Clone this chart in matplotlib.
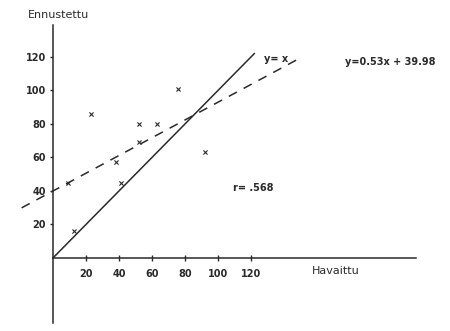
import matplotlib
matplotlib.use("Agg")
import matplotlib.pyplot as plt
import numpy as np

# Data
observed = [9, 13, 23, 38, 41, 52, 52, 63, 76, 92]        # Havaittu
predicted = [45, 16, 86, 57, 45, 80, 69, 80, 101, 63]     # Ennustettu
slope, intercept = 0.53, 39.98
r_value = ".568"
x_ticks = [20, 40, 60, 80, 100, 120]
y_ticks = [20, 40, 60, 80, 100, 120]

ink = "#2a2a2a"
plt.rcParams['font.family'] = ['DejaVu Sans']

fig = plt.figure(figsize=(4.5, 3.31), dpi=100)
ax = fig.add_axes([0, 0, 1, 1])
ax.set_xlim(-32.1, 240.6)
ax.set_ylim(-43.6, 154.0)

for s in ['top', 'right']:
    ax.spines[s].set_visible(False)
ax.spines['left'].set_position(('data', 0))
ax.spines['bottom'].set_position(('data', 0))
ax.spines['left'].set_bounds(-38.8, 139)
ax.spines['bottom'].set_bounds(0, 220)
for s in ['left', 'bottom']:
    ax.spines[s].set_color(ink)
    ax.spines[s].set_linewidth(1.1)

ax.set_xticks(x_ticks)
ax.set_yticks(y_ticks)
ax.set_xticklabels([str(v) for v in x_ticks])
ax.set_yticklabels([str(v) for v in y_ticks])
ax.tick_params(axis='x', direction='inout', length=4, width=1, color=ink,
               labelsize=7, labelcolor=ink, pad=6)
ax.tick_params(axis='y', direction='out', length=2, width=1, color=ink,
               labelsize=7, labelcolor=ink, pad=3)
for lab in ax.get_xticklabels() + ax.get_yticklabels():
    lab.set_fontweight('bold')

# y = x line
xs = np.array([0, 122])
ax.plot(xs, xs, color=ink, lw=1.1)
# regression line
xr = np.array([-19, 148])
ax.plot(xr, slope * xr + intercept, color=ink, lw=1.1, linestyle=(0, (6, 5)))

ax.scatter(observed, predicted, marker='x', s=9, color=ink, linewidths=0.8, zorder=3)

ax.text(128, 119, "y= x", fontsize=7, fontweight='bold', color=ink, ha='left', va='center')
ax.text(177, 117, "y=0.53x + 39.98", fontsize=7, fontweight='bold', color=ink,
        ha='left', va='center')
ax.text(109, 42, "r= .568", fontsize=7, fontweight='bold', color=ink, ha='left', va='center')
ax.text(-15, 145, "Ennustettu", fontsize=8, color=ink, ha='left', va='center')
ax.text(157, -7.5, "Havaittu", fontsize=8, color=ink, ha='left', va='center')

fig.savefig("out.png", dpi=100)
